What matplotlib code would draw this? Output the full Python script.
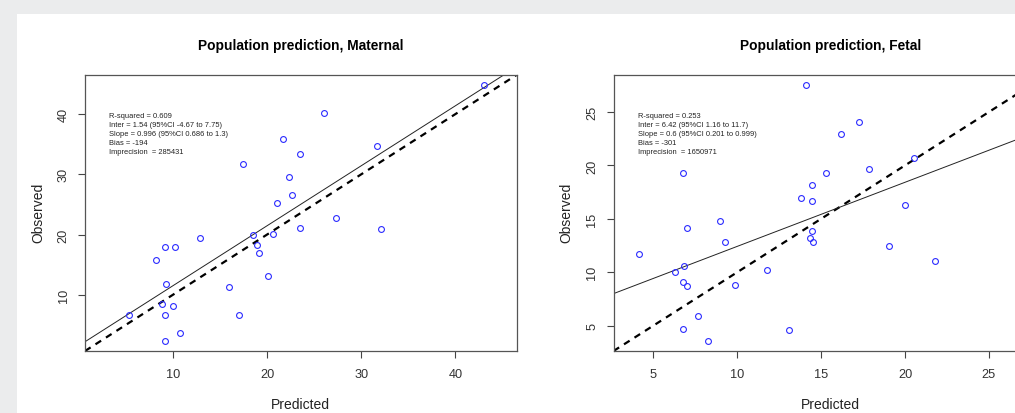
import numpy as np
import matplotlib
matplotlib.use("Agg")
import matplotlib.pyplot as plt
from matplotlib.patches import Rectangle

plt.rcParams['font.family'] = ['Liberation Sans', 'DejaVu Sans']

# ---------------- data ----------------
mat_pred = [26.0, 21.7, 23.5, 17.4, 22.3, 22.6, 21.0, 31.7, 12.9, 27.3,
            18.5, 20.6, 18.9, 19.1, 23.5, 32.1, 20.05, 9.19, 10.2, 8.2,
            9.26, 16.0, 5.38, 8.84, 10.0, 9.1, 17.0, 10.7, 9.1, 43.0]
mat_obs = [40.15, 35.8, 33.4, 31.7, 29.5, 26.6, 25.2, 34.7, 19.4, 22.7,
           19.9, 20.05, 18.3, 17.0, 21.1, 21.0, 13.07, 17.9, 17.9, 15.7,
           11.7, 11.3, 6.7, 8.5, 8.2, 6.6, 6.6, 3.7, 2.35, 44.8]

fet_pred = [14.13, 17.25, 16.19, 17.88, 15.3, 20.55, 6.79, 14.48, 13.83, 14.48,
            20.0, 8.98, 6.99, 9.29, 14.48, 14.32, 14.52, 19.06, 21.78, 4.13,
            11.78, 6.31, 6.83, 6.77, 6.99, 9.87, 7.64, 6.77, 13.07, 8.24]
fet_obs = [27.5, 24.06, 22.97, 19.66, 19.31, 20.69, 19.25, 18.2, 16.97, 16.69,
           16.31, 14.84, 14.16, 12.84, 13.88, 13.16, 12.84, 12.5, 11.06, 11.75,
           10.25, 10.03, 10.63, 9.09, 8.69, 8.84, 5.91, 4.72, 4.56, 3.59]

titles = ["Population prediction, Maternal", "Population prediction, Fetal"]
intercepts = [1.54, 6.42]
slopes = [0.996, 0.6]
stats_text = [
    ["R-squared = 0.609",
     "Inter = 1.54 (95%CI -4.67 to 7.75)",
     "Slope = 0.996 (95%CI 0.686 to 1.3)",
     "Bias = -194",
     "Imprecision  = 285431"],
    ["R-squared = 0.253",
     "Inter = 6.42 (95%CI 1.16 to 11.7)",
     "Slope = 0.6 (95%CI 0.201 to 0.999)",
     "Bias = -301",
     "Imprecision  = 1650971"],
]
xticks_list = [[10, 20, 30, 40], [5, 10, 15, 20, 25]]
yticks_list = [[10, 20, 30, 40], [5, 10, 15, 20, 25]]

# ---------------- figure ----------------
W, H = 1015, 414
fig = plt.figure(figsize=(W / 100, H / 100), dpi=100)
fig.patch.set_facecolor('#ebeced')
fig.add_artist(Rectangle((17 / W, 0), 1, (H - 15) / H, transform=fig.transFigure,
                         facecolor='white', edgecolor='none', zorder=0))

box_bottom, box_top = 352, 76
lefts = [85, 613.5]
rights = [516.5, 1047]
datasets = [(mat_pred, mat_obs), (fet_pred, fet_obs)]

for i in range(2):
    x = np.array(datasets[i][0])
    y = np.array(datasets[i][1])
    ax = fig.add_axes([lefts[i] / W, (H - box_bottom) / H,
                       (rights[i] - lefts[i]) / W, (box_bottom - box_top) / H])
    ax.set_facecolor('white')
    allv = np.concatenate([x, y])
    lo, hi = allv.min(), allv.max()
    pad = 0.04 * (hi - lo)
    lim = (lo - pad, hi + pad)
    ax.set_xlim(lim)
    ax.set_ylim(lim)

    ax.plot(x, y, linestyle='none', marker='o', markersize=4.2,
            markerfacecolor='none', markeredgecolor='#2b2bff', markeredgewidth=0.8,
            zorder=3)
    ax.axline((0, 0), slope=1, color='black', lw=1.6, linestyle=(0, (3, 2.6)), zorder=2)
    ax.axline((0, intercepts[i]), slope=slopes[i], color='#222222', lw=0.7, zorder=2)

    for s in ax.spines.values():
        s.set_color('#555555')
        s.set_linewidth(0.9)

    ax.set_xticks(xticks_list[i])
    ax.set_yticks(yticks_list[i])
    ax.tick_params(axis='both', direction='out', length=5, width=0.8,
                   color='#444444', labelsize=9.2, labelcolor='#333333')
    ax.tick_params(axis='x', pad=7.5)
    ax.tick_params(axis='y', pad=6)
    for lab in ax.get_yticklabels():
        lab.set_rotation(90)
        lab.set_va('center')

    # stats text
    x_txt = (lefts[i] + 24) / W
    for k, line in enumerate(stats_text[i]):
        ypx = 116 + 9.2 * k
        fig.text(x_txt, (H - ypx) / H, line, fontsize=5.4, color='#222222',
                 ha='left', va='center')

    cx = (lefts[i] + rights[i]) / 2 / W
    fig.text(cx, (H - 46) / H, titles[i], fontsize=9.9, fontweight='bold',
             ha='center', va='center', color='black')
    fig.text(cx, (H - 405) / H, "Predicted", fontsize=10, ha='center',
             va='center', color='#222222')
    fig.text((lefts[i] - 47) / W, (H - 213) / H, "Observed", fontsize=10,
             rotation=90, ha='center', va='center', color='#222222')

fig.savefig("out.png", dpi=100)
